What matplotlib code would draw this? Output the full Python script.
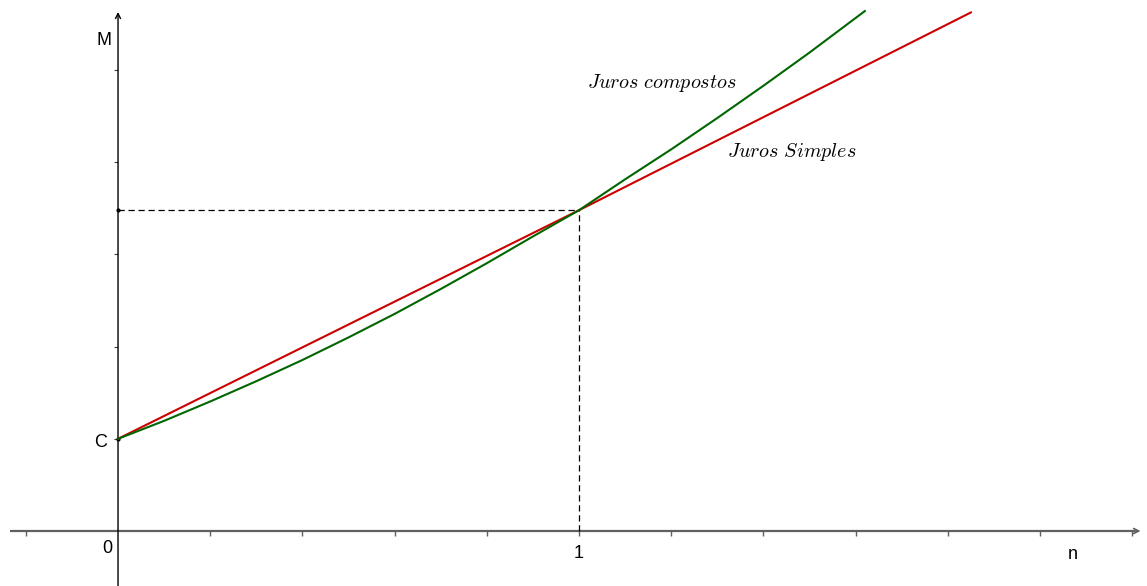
import matplotlib
matplotlib.use("Agg")
import matplotlib.pyplot as plt
from matplotlib.lines import TICKLEFT, TICKDOWN

plt.rcParams['mathtext.fontset'] = 'cm'
plt.rcParams['font.family'] = ['Liberation Sans', 'DejaVu Sans']

# --- data ---
C_value = 0.2
M_value = 0.696
n_simple = [0.0, 1.0, 1.85]
M_simple = [0.2, 0.696, 1.125]
n_compound = [0.0, 0.1, 0.2, 0.3, 0.4, 0.5, 0.6, 0.7, 0.8, 0.9, 1.0,
              1.1, 1.2, 1.3, 1.4, 1.5, 1.6, 1.62]
M_compound = [0.200, 0.239, 0.281, 0.325, 0.371, 0.420, 0.471, 0.525,
              0.581, 0.639, 0.696, 0.763, 0.828, 0.896, 0.966, 1.038,
              1.113, 1.128]
x_ticks = [-0.2, 0.2, 0.4, 0.6, 0.8, 1.0, 1.2, 1.4, 1.6, 1.8, 2.0, 2.2]
y_ticks = [0.2, 0.4, 0.6, 0.8, 1.0]
tick_labels = {"x0": "0", "x1": "1", "xname": "n", "yname": "M", "yC": "C"}
curve_labels = [r"$Juros\ compostos$", r"$Juros\ Simples$"]

fig = plt.figure(figsize=(11.47, 5.86), dpi=100)
ax = fig.add_axes([0, 0, 1, 1])
ax.set_xlim(-0.256, 2.232)
ax.set_ylim(-0.1193, 1.152)
ax.axis('off')

# axes
ax.plot([-0.234, 2.205], [0, 0], color='#606060', lw=1.6, zorder=2, solid_capstyle='butt')
ax.annotate('', xy=(2.218, 0), xytext=(2.19, 0),
            arrowprops=dict(arrowstyle='->', color='#606060', lw=1.2,
                            shrinkA=0, shrinkB=0, mutation_scale=9))
ax.annotate('', xy=(0, 1.126), xytext=(0, -0.125),
            arrowprops=dict(arrowstyle='->', color='black', lw=1.0,
                            shrinkA=0, shrinkB=0, mutation_scale=9), zorder=3)

# ticks
ax.plot(x_ticks, [0] * len(x_ticks), linestyle='none', marker=TICKDOWN,
        markersize=3.5, markeredgewidth=1.0, color='#606060')
ax.plot([0] * len(y_ticks), y_ticks, linestyle='none', marker=TICKLEFT,
        markersize=3, markeredgewidth=0.8, color='#404040')

# dashed guide lines
ax.plot([0, 1.0], [M_value, M_value], color='black', lw=0.9, ls=(0, (5, 3)))
ax.plot([1.0, 1.0], [0, M_value], color='black', lw=0.9, ls=(0, (5, 3)))
ax.plot([0], [M_value], marker='o', markersize=2, color='black')
ax.plot([0], [C_value], marker='o', markersize=2, color='black')

# curves
ax.plot(n_simple, M_simple, color='#CC0000', lw=1.5, zorder=4)
ax.plot(n_compound, M_compound, color='#006600', lw=1.5, zorder=5)

# labels
fs = 13
ax.text(-0.030, 1.065, tick_labels["yname"], fontsize=fs, ha='center', va='center')
ax.text(-0.037, 0.191, tick_labels["yC"], fontsize=fs, ha='center', va='center')
ax.text(-0.024, -0.037, tick_labels["x0"], fontsize=fs, ha='center', va='center')
ax.text(1.0, -0.048, tick_labels["x1"], fontsize=fs, ha='center', va='center')
ax.text(2.072, -0.052, tick_labels["xname"], fontsize=fs, ha='center', va='center')

ax.text(1.017, 0.972, curve_labels[0], fontsize=14.5, ha='left', va='center')
ax.text(1.321, 0.822, curve_labels[1], fontsize=14.5, ha='left', va='center')

fig.savefig("out.png", dpi=100)
